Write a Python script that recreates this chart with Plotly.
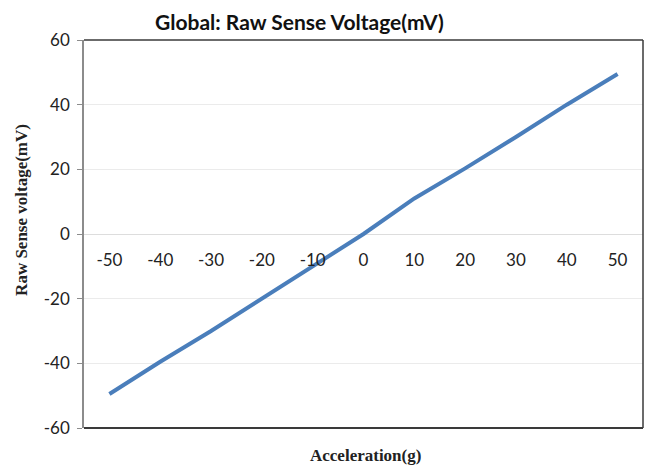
import plotly.graph_objects as go

acceleration = [-50, -40, -30, -20, -10, 0, 10, 20, 30, 40, 50]
voltage = [-49.5, -39.5, -30, -20, -10.3, 0, 11, 20.3, 30, 40, 49.5]
y_ticks = [-60, -40, -20, 0, 20, 40, 60]

fig = go.Figure()
fig.add_trace(go.Scatter(
    x=acceleration, y=voltage, mode="lines",
    line=dict(color="#4A7EBB", width=4), showlegend=False,
))

tick_font = dict(family="Lato, Open Sans, sans-serif", size=17, color="#222222")

fig.update_layout(
    width=648, height=467,
    margin=dict(l=84, r=5, t=40, b=39),
    paper_bgcolor="white", plot_bgcolor="white",
    xaxis=dict(
        range=[-55, 55], tickvals=acceleration, ticktext=[str(v) for v in acceleration],
        showgrid=False, zeroline=False, showline=False, ticks="",
        anchor="free", position=0.5, tickfont=tick_font, ticklabelstandoff=14,
    ),
    yaxis=dict(
        range=[-60, 60], tickvals=y_ticks, ticktext=[str(v) for v in y_ticks],
        showgrid=True, gridcolor="#EBEBEB", gridwidth=1,
        zeroline=True, zerolinecolor="#DDDDDD", zerolinewidth=1,
        showline=True, linecolor="#8C8C8C", linewidth=1.5,
        ticks="outside", ticklen=5, tickcolor="#8C8C8C", tickfont=tick_font,
        ticklabelstandoff=4,
    ),
    shapes=[
        dict(type="line", xref="paper", yref="paper", x0=0, x1=1, y0=1, y1=1,
             line=dict(color="#3A3A3A", width=1.5)),
        dict(type="line", xref="paper", yref="paper", x0=1, x1=1, y0=0, y1=1,
             line=dict(color="#3A3A3A", width=1.5)),
        dict(type="line", xref="paper", yref="paper", x0=0, x1=1, y0=0, y1=0,
             line=dict(color="#3A3A3A", width=2)),
    ],
    annotations=[
        dict(text="<b>Global: Raw Sense Voltage(mV)</b>", xref="paper", yref="paper",
             x=0.386, y=1.0, yshift=19, xanchor="center", yanchor="middle", showarrow=False,
             font=dict(family="Lato, Open Sans, sans-serif", size=21, color="#111111")),
        dict(text="<b>Acceleration(g)</b>", xref="paper", yref="paper",
             x=0.503, y=-0.07, xanchor="center", yanchor="middle", showarrow=False,
             font=dict(family="Liberation Serif, Times New Roman, serif", size=17, color="#222222")),
        dict(text="<b>Raw Sense voltage(mV)</b>", xref="paper", yref="paper",
             x=-0.111, y=0.562, xanchor="center", yanchor="middle", showarrow=False,
             textangle=-90,
             font=dict(family="Liberation Serif, Times New Roman, serif", size=17, color="#222222")),
    ],
)

fig.write_html("out.html")
